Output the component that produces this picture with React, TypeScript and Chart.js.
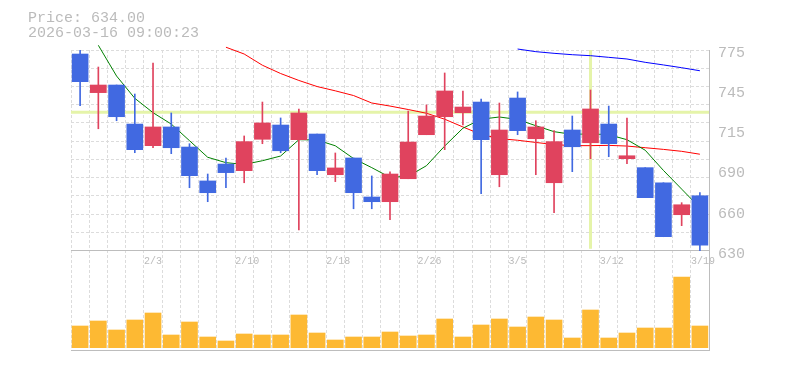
import React, { useEffect, useRef } from 'react';
import { Chart, registerables } from 'chart.js';

Chart.register(...registerables);

// ---------- data ----------
const DATES = ['1/28', '1/29', '1/30', '2/2', '2/3', '2/4', '2/5', '2/6', '2/9', '2/10', '2/12', '2/13', '2/16', '2/17', '2/18', '2/19', '2/20', '2/24', '2/25', '2/26', '2/27', '3/2', '3/3', '3/4', '3/5', '3/6', '3/9', '3/10', '3/11', '3/12', '3/13', '3/16', '3/17', '3/18', '3/19'];
const SHOWN_DATES = ['2/3', '2/10', '2/18', '2/26', '3/5', '3/12', '3/19'];

const OPEN = [772.1, 744.2, 749.7, 721.5, 705.9, 719.4, 704.9, 680.4, 692.6, 687.8, 710.5, 720.8, 710.2, 714.3, 684.9, 697.0, 668.8, 665.4, 682.0, 713.8, 726.8, 729.7, 737.4, 684.9, 740.3, 710.9, 679.1, 717.2, 708.0, 721.5, 696.5, 690.0, 679.1, 656.0, 669.7];
const HIGH = [775.7, 762.7, 749.7, 743.2, 765.6, 729.5, 707.3, 685.4, 697.0, 712.9, 737.4, 725.9, 732.4, 714.3, 700.6, 697.0, 684.0, 686.9, 730.9, 735.3, 758.4, 745.4, 739.6, 736.7, 744.7, 723.9, 716.7, 727.3, 746.1, 734.5, 725.9, 690.0, 679.1, 664.7, 671.9];
const LOW = [734.8, 718.1, 723.9, 700.8, 704.4, 700.1, 675.5, 665.4, 675.5, 679.1, 707.3, 700.8, 645.0, 684.9, 679.9, 660.3, 660.3, 652.4, 682.0, 713.8, 703.0, 720.8, 671.2, 676.2, 713.8, 684.9, 657.5, 687.1, 696.5, 697.9, 692.9, 668.3, 640.1, 648.1, 630.0];
const CLOSE = [752.1, 749.7, 726.8, 703.0, 719.4, 704.4, 684.2, 671.9, 686.4, 708.8, 722.3, 702.2, 729.5, 687.8, 689.8, 671.9, 665.4, 685.4, 708.5, 727.3, 745.4, 733.8, 710.2, 717.2, 716.7, 719.4, 708.8, 705.1, 732.4, 707.3, 698.6, 668.3, 640.1, 663.2, 634.0];
const VOLUME = [217, 267, 177, 277, 347, 127, 257, 107, 67, 137, 127, 127, 327, 147, 77, 107, 107, 157, 117, 127, 287, 107, 227, 287, 207, 307, 277, 97, 377, 97, 147, 197, 197, 707, 217];

const MA5 = [null, 778.4, 756.2, 740.1, 729.7, 721.5, 709.5, 697.5, 693.6, 692.3, 695.0, 698.4, 710.2, 710.0, 705.8, 696.6, 690.0, 683.0, 683.8, 691.4, 705.6, 718.5, 725.0, 726.6, 724.8, 720.3, 716.0, 714.0, 714.5, 713.8, 710.2, 702.6, 688.0, 674.5, 661.0];
const MA25 = [null, null, null, null, null, null, null, null, 777.0, 772.1, 764.0, 758.0, 753.0, 748.6, 745.5, 742.1, 736.7, 734.5, 732.0, 729.3, 725.0, 719.4, 714.0, 711.0, 709.8, 708.2, 706.7, 705.9, 705.9, 706.1, 705.6, 704.4, 703.2, 701.8, 699.7];
const MA75 = [null, null, null, null, null, null, null, null, null, null, null, null, null, null, null, null, null, null, null, null, null, null, null, null, 775.7, 773.8, 772.6, 771.6, 770.9, 769.7, 768.5, 766.1, 764.2, 762.2, 760.0];

const PRICE_TICK_VALUES = [630, 659, 688, 717, 746, 775];
const PRICE_TICK_LABELS = ['630', '660', '690', '715', '745', '775'];
const TITLE_LINES = ['Price: 634.00', '2026-03-16 09:00:23'];

const CROSS_PRICE = 730;
const CROSS_INDEX = 28;

// ---------- axis configuration ----------
const PRICE_MIN = 630;
const PRICE_MAX = 775;
const PRICE_PANEL_PX = 200.7;
const VOLUME_PANEL_PX = 99.3;
const PRICE_AXIS_MIN = PRICE_MIN - (PRICE_MAX - PRICE_MIN) * (VOLUME_PANEL_PX / PRICE_PANEL_PX);
const GRID_DIVISIONS = 11;
const GRID_VALUES = [PRICE_AXIS_MIN].concat(
  Array.from({ length: GRID_DIVISIONS + 1 }, (_, k) => PRICE_MIN + (k * (PRICE_MAX - PRICE_MIN)) / GRID_DIVISIONS)
);
const VOL_AXIS_MIN = -23;
const VOL_AXIS_MAX = 2977;

// ---------- styles ----------
const UP_COLOR = '#e0435e';
const DOWN_COLOR = '#4169e1';
const VOLUME_COLOR = '#fdb933';
const GRID_COLOR = '#dcdcdc';
const AXIS_COLOR = '#bdbdbd';
const TEXT_COLOR = '#bbbbbb';
const CROSS_COLOR = '#e5f4a9';
const MONO = "'Liberation Mono', monospace";

const crosshairPlugin = {
  id: 'crosshair',
  beforeDatasetsDraw(chart: any) {
    const { ctx, chartArea, scales } = chart;
    const y = scales.y.getPixelForValue(CROSS_PRICE);
    const x = scales.x.getPixelForValue(CROSS_INDEX);
    const yTop = scales.y.getPixelForValue(PRICE_MAX);
    const yBottom = scales.y.getPixelForValue(PRICE_MIN) - 2;
    ctx.save();
    ctx.strokeStyle = CROSS_COLOR;
    ctx.lineWidth = 3;
    ctx.beginPath();
    ctx.moveTo(chartArea.left, y);
    ctx.lineTo(chartArea.right, y);
    ctx.moveTo(x, yTop);
    ctx.lineTo(x, yBottom);
    ctx.stroke();
    ctx.restore();
  },
};

export default function App() {
  const ref = useRef<HTMLCanvasElement>(null);

  useEffect(() => {
    if (!ref.current) return;
    const candleColors = OPEN.map((o, i) => (CLOSE[i] >= o ? UP_COLOR : DOWN_COLOR));
    const chart = new Chart(ref.current, {
      type: 'bar',
      data: {
        labels: DATES,
        datasets: [
          {
            type: 'bar',
            label: 'body',
            data: OPEN.map((o, i) => [o, CLOSE[i]]),
            backgroundColor: candleColors,
            barThickness: 16,
            grouped: false,
            yAxisID: 'y',
            order: 1,
          } as any,
          {
            type: 'bar',
            label: 'wick',
            data: LOW.map((l, i) => [l, HIGH[i]]),
            backgroundColor: candleColors,
            barThickness: 1,
            grouped: false,
            yAxisID: 'y',
            order: 2,
          } as any,
          {
            type: 'line',
            label: 'MA5',
            data: MA5,
            borderColor: '#008000',
            borderWidth: 1,
            pointRadius: 0,
            yAxisID: 'y',
            clip: false,
            order: 3,
          } as any,
          {
            type: 'line',
            label: 'MA25',
            data: MA25,
            borderColor: '#ff0000',
            borderWidth: 1,
            pointRadius: 0,
            yAxisID: 'y',
            clip: false,
            order: 4,
          } as any,
          {
            type: 'line',
            label: 'MA75',
            data: MA75,
            borderColor: '#0000ff',
            borderWidth: 1,
            pointRadius: 0,
            yAxisID: 'y',
            clip: false,
            order: 5,
          } as any,
          {
            type: 'bar',
            label: 'volume',
            data: VOLUME,
            backgroundColor: VOLUME_COLOR,
            barThickness: 16,
            grouped: false,
            yAxisID: 'yv',
            order: 10,
          } as any,
        ],
      },
      options: {
        responsive: false,
        animation: false,
        devicePixelRatio: 1,
        events: [],
        layout: { padding: { left: 28, top: 0, right: 0, bottom: 20 } },
        plugins: {
          legend: { display: false },
          tooltip: { enabled: false },
          title: {
            display: true,
            text: TITLE_LINES,
            align: 'start',
            color: TEXT_COLOR,
            font: { family: MONO, size: 15, weight: 'normal', lineHeight: 1 },
            padding: { top: 11, bottom: 9 },
          },
        },
        scales: {
          x: {
            type: 'category',
            offset: true,
            position: { y: PRICE_MIN },
            grid: { display: true, offset: true, color: GRID_COLOR, lineWidth: 1, drawTicks: false },
            border: { display: true, color: AXIS_COLOR, width: 1, dash: [3, 2] },
            ticks: {
              autoSkip: false,
              maxRotation: 0,
              minRotation: 0,
              align: 'start',
              labelOffset: -9,
              padding: 5,
              color: TEXT_COLOR,
              font: { family: MONO, size: 10 },
              callback: (_v: any, i: number) => (SHOWN_DATES.includes(DATES[i]) ? DATES[i] : ''),
            },
            afterFit: (s: any) => {
              s.paddingLeft = 0;
              s.paddingRight = 0;
            },
          },
          y: {
            type: 'linear',
            position: 'left',
            min: PRICE_AXIS_MIN,
            max: PRICE_MAX,
            bounds: 'data',
            grid: {
              display: true,
              drawTicks: false,
              lineWidth: 1,
              color: (c: any) => (c.tick && c.tick.value === PRICE_AXIS_MIN ? AXIS_COLOR : GRID_COLOR),
            },
            border: {
              display: false,
              dash: (c: any) => (c.tick && c.tick.value === PRICE_AXIS_MIN ? [] : [3, 2]),
            },
            ticks: { display: false },
            afterBuildTicks: (s: any) => {
              s.ticks = GRID_VALUES.map((v) => ({ value: v }));
            },
            afterFit: (s: any) => {
              s.width = 43;
              s.paddingTop = 0;
              s.paddingBottom = 0;
            },
          },
          yl: {
            type: 'linear',
            position: 'right',
            min: PRICE_AXIS_MIN,
            max: PRICE_MAX,
            bounds: 'data',
            grid: { display: false, drawTicks: false },
            border: { display: true, color: AXIS_COLOR, width: 1 },
            ticks: {
              padding: 9,
              labelOffset: 3,
              color: TEXT_COLOR,
              font: { family: MONO, size: 15 },
              callback: (_v: any, i: number) => PRICE_TICK_LABELS[i],
            },
            afterBuildTicks: (s: any) => {
              s.ticks = PRICE_TICK_VALUES.map((v) => ({ value: v }));
            },
            afterFit: (s: any) => {
              s.width = 76;
              s.paddingTop = 0;
              s.paddingBottom = 0;
            },
          },
          yv: {
            type: 'linear',
            display: false,
            min: VOL_AXIS_MIN,
            max: VOL_AXIS_MAX,
          },
        },
      } as any,
      plugins: [crosshairPlugin],
    });
    return () => chart.destroy();
  }, []);

  return (
    <canvas
      ref={ref}
      width={785}
      height={370}
      style={{ position: 'absolute', left: 0, top: 0, display: 'block' }}
    />
  );
}
